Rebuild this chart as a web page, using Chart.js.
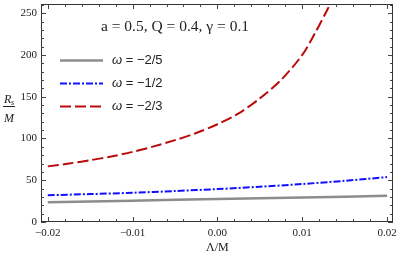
<!DOCTYPE html>
<html><head><meta charset="utf-8">
<script src="https://cdn.jsdelivr.net/npm/chart.js@4"></script>
<style>html,body{margin:0;padding:0;background:#fff}#wrap{position:relative;width:399px;height:259px}</style>
</head><body><div id="wrap"><canvas id="c" width="399" height="259"></canvas></div>
<script>
const seriesLabels = ["ω = −2/5", "ω = −1/2", "ω = −2/3"];
const xGray = [-0.02, -0.01, 0.0, 0.01, 0.02];
const yGray = [23.7, 25.5, 27.5, 29.4, 31.3];
const xBlue = [-0.02, -0.015, -0.01, -0.005, 0.0, 0.005, 0.01, 0.015, 0.02];
const yBlue = [32.0, 33.4, 35.0, 37.1, 39.4, 42.2, 45.5, 49.3, 53.8];
const xRed = [-0.02, -0.0175, -0.015, -0.0125, -0.01, -0.0075, -0.005, -0.0025, 0.0, 0.0025, 0.005, 0.0075, 0.01, 0.0115, 0.013, 0.014];
const yRed = [66.6, 70.0, 74.0, 78.5, 84.0, 90.5, 98.0, 106.5, 117.0, 130.0, 148.0, 170.0, 200.0, 226.0, 255.0, 276.0];
const xTicks = [-0.02, -0.01, 0.0, 0.01, 0.02];
const xTickLabels = ["−0.02", "−0.01", "0.00", "0.01", "0.02"];
const yTicks = [0, 50, 100, 150, 200, 250];
const annotation = "a = 0.5, Q = 0.4, γ = 0.1";

function pts(xs, ys){ return xs.map((x,i)=>({x:x,y:ys[i]})); }

const serif = "'Liberation Serif', 'Times New Roman', serif";
const sans = "'Liberation Sans', Arial, sans-serif";

const deco = {
  id: 'deco',
  afterDraw(chart){
    const ctx = chart.ctx, a = chart.chartArea;
    const xs = chart.scales.x, ys = chart.scales.y;
    ctx.save();
    ctx.strokeStyle = '#333'; ctx.lineWidth = 1;
    ctx.strokeRect(a.left+0.5, a.top+0.5, a.right-a.left-1, a.bottom-a.top-1);
    ctx.strokeStyle = '#444';
    for (let k = -10; k <= 10; k++) {
      const v = k*0.002; const px = Math.round(xs.getPixelForValue(v))+0.5;
      const major = (k % 5 === 0); const L = major ? 5 : 3;
      ctx.beginPath();
      ctx.moveTo(px, a.bottom); ctx.lineTo(px, a.bottom-L);
      ctx.moveTo(px, a.top); ctx.lineTo(px, a.top+L);
      ctx.stroke();
    }
    for (let v = 0; v <= 260; v += 10) {
      const py = Math.round(ys.getPixelForValue(v))+0.5;
      const major = (v % 50 === 0); const L = major ? 5 : 3;
      ctx.beginPath();
      ctx.moveTo(a.left, py); ctx.lineTo(a.left+L, py);
      ctx.moveTo(a.right, py); ctx.lineTo(a.right-L, py);
      ctx.stroke();
    }
    ctx.fillStyle = '#222';
    ctx.font = '11px ' + serif;
    ctx.textAlign = 'center'; ctx.textBaseline = 'middle';
    xTicks.forEach((v,i)=>{ ctx.fillText(xTickLabels[i], xs.getPixelForValue(v), 233); });
    ctx.textAlign = 'right';
    yTicks.forEach(v=>{ ctx.fillText(String(v), a.left-4, ys.getPixelForValue(v)); });
    ctx.font = '12px ' + serif; ctx.textAlign = 'center';
    ctx.fillText('Λ/M', xs.getPixelForValue(0), 248);
    ctx.font = 'italic 12px ' + serif;
    ctx.textAlign = 'left';
    ctx.fillText('R', 4, 100);
    ctx.font = 'italic 8px ' + serif;
    ctx.fillText('s', 11, 103);
    ctx.beginPath(); ctx.moveTo(3, 106.5); ctx.lineTo(15, 106.5); ctx.strokeStyle='#222'; ctx.stroke();
    ctx.font = 'italic 12px ' + serif;
    ctx.fillText('M', 4, 119);
    ctx.font = '15.5px ' + serif; ctx.textAlign = 'left';
    ctx.fillText(annotation, 101, 27);
    const ds = chart.data.datasets;
    const rows = [60.5, 83.5, 106.5];
    ds.forEach((d,i)=>{
      ctx.save();
      ctx.strokeStyle = d.borderColor; ctx.lineWidth = d.borderWidth;
      ctx.setLineDash(d.borderDash || []);
      ctx.beginPath(); ctx.moveTo(60, rows[i]); ctx.lineTo(103, rows[i]); ctx.stroke();
      ctx.restore();
      ctx.fillStyle = '#222';
      ctx.font = 'italic 13px ' + sans;
      ctx.fillText('ω', 112, rows[i]);
      const w = ctx.measureText('ω').width;
      ctx.font = '13px ' + sans;
      ctx.fillText(d.label.slice(1), 112 + w, rows[i]);
    });
    ctx.restore();
  }
};

new Chart(document.getElementById('c'), {
  type: 'scatter',
  data: { datasets: [
    { label: seriesLabels[0], data: pts(xGray, yGray), showLine: true, borderColor: '#8c8c8c', borderWidth: 2.5, pointRadius: 0, tension: 0.3 },
    { label: seriesLabels[1], data: pts(xBlue, yBlue), showLine: true, borderColor: '#1010ff', borderWidth: 2, borderDash: [7,2,2,2], pointRadius: 0, tension: 0.3 },
    { label: seriesLabels[2], data: pts(xRed, yRed), showLine: true, borderColor: '#bb0a0a', borderWidth: 2, borderDash: [11,4], pointRadius: 0, tension: 0.3 }
  ]},
  options: {
    responsive: false, animation: false,
    layout: { padding: { left: 41, top: 4, right: 6, bottom: 37 } },
    plugins: { legend: { display: false }, tooltip: { enabled: false } },
    scales: {
      x: { type: 'linear', min: -0.0208, max: 0.0207, display: false },
      y: { type: 'linear', min: 0, max: 261, display: false }
    }
  },
  plugins: [deco]
});
</script></body></html>
